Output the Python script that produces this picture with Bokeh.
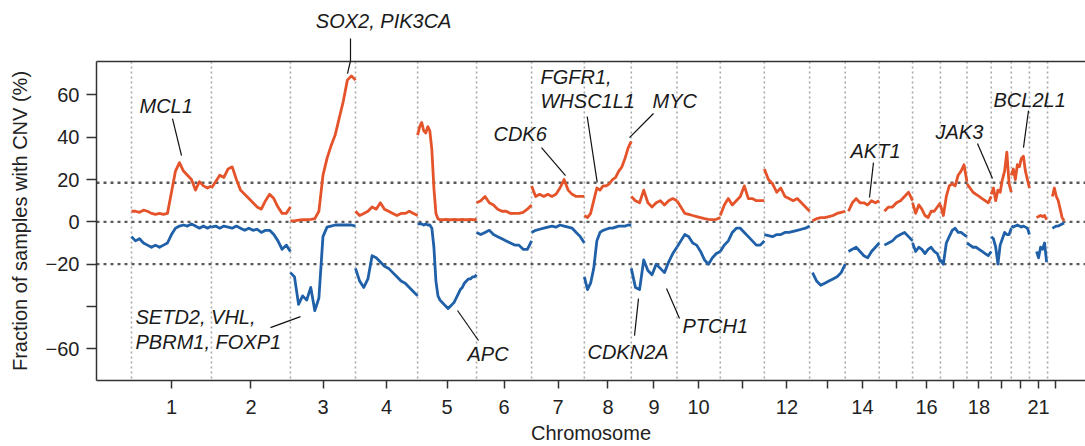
import numpy as np
from bokeh.plotting import figure
from bokeh.models import Span, Label, Arrow, FixedTicker, LinearAxis, Range1d
from bokeh.embed import file_html
from bokeh.resources import INLINE

# ---------------- data ----------------
CHROMS = [str(i) for i in range(1, 23)]
CHROM_LEN = [247, 244, 201, 192, 182, 170, 163, 145, 141, 134, 136,
             140, 110, 105, 103, 86, 82, 75, 62, 56, 56, 51]          # Mb
DATA_START = [0] * 12 + [9, 10, 16] + [0] * 5 + [22, 15]           # Mb trimmed (p-arm)
DATA_END_TRIM = [0] * 20 + [3, 0]
SHOWN_LABELS = ["1", "2", "3", "4", "5", "6", "7", "8", "9", "10",
                "12", "14", "16", "18", "21"]

GAIN = [
    [5, 5, 4.5, 5.5, 5, 4, 3.5, 4, 3.5, 4, 14, 24, 28, 24, 22, 20, 15, 19, 17, 16, 17],
    [16, 19, 22, 21, 25, 26, 20, 15, 13, 11, 9, 7, 6, 10, 13, 11, 7, 4, 4, 7],
    [0.5, 0.5, 0.8, 1, 1, 1.2, 1.5, 5, 22, 30, 36, 41, 49, 57, 67, 69, 67],
    [5, 3, 4, 5, 7, 6, 9, 6, 5, 4, 3, 4, 4, 5, 4, 3],
    [41, 45, 47, 43, 42, 45, 43, 34, 16, 4, 1.5, 1, 1, 1, 1.2, 1, 1, 1, 1.2, 1,
     1, 1, 1.2, 1, 1, 1, 1.2, 1, 1, 1.5],
    [9, 10, 12, 9, 8, 6, 5, 5, 4, 4, 4, 4.5, 6, 8],
    [17, 12, 13, 12, 13, 12, 13, 16, 20, 15, 13, 12, 12, 12],
    [3, 2, 4, 10, 16, 15, 17, 17, 18, 20, 21, 24, 26, 30, 35, 38],
    [12, 10, 9, 15, 9, 7, 9, 10, 8, 10, 11, 10],
    [10, 7, 4, 3.5, 3, 2.5, 2, 1.5, 1.2, 1, 1.2, 2],
    [3, 8, 11, 8, 10, 12, 17, 11, 11, 10, 10, 10],
    [25, 20, 18, 14, 16, 12, 11, 10, 11, 9, 7, 5],
    [0.5, 1.5, 2, 2, 2.5, 3, 4, 4.5, 5],
    [5, 9, 11, 9, 9, 8, 10, 9, 10],
    [5, 7, 7, 9, 10, 12, 14, 10],
    [9, 4, 8, 6, 3, 2, 5, 5, 7, 9],
    [8, 3, 12, 17, 18, 17, 22, 24, 27, 19],
    [18, 16, 14, 13, 12, 11, 10, 9, 12],
    [13, 16, 10, 15, 14, 20, 24, 33, 18, 14],
    [22, 25, 20, 27, 26, 30, 31, 24, 20, 16],
    [2, 2.5, 3, 2.5, 3, 1],
    [12, 16, 12, 10, 6, 2, 0.5],
]
LOSS = [
    [-7, -9, -8, -10, -11, -12, -11, -12, -11, -10, -6, -3, -2, -1.5, -2, -1, -2, -3, -2, -3, -2],
    [-2.5, -2, -3, -2, -2.5, -3, -2, -3, -4, -3, -4, -3.5, -5, -4, -4, -6, -9, -13, -11, -14],
    [-24, -26, -39, -35, -37, -31, -42, -36, -7, -2.5, -2, -1.5, -1.5, -1.5, -1.5, -1.5, -2],
    [-22, -28, -31, -27, -16, -17, -19, -21, -22, -24, -26, -28, -29, -31, -33, -35],
    [-1, -1, -1, -1.5, -1, -1.5, -1.5, -3, -12, -28, -35, -37, -38, -39, -40, -41,
     -40, -39, -38, -36, -34, -32, -31, -29, -28, -27, -27, -26, -26, -25],
    [-5, -6, -5, -4, -6, -7, -8, -9, -10, -11, -11, -13, -13, -9],
    [-5, -4, -3.5, -3, -2.5, -2, -2.5, -1.5, -2, -2.5, -3, -5, -7, -10],
    [-26, -32, -29, -22, -9, -5, -4, -3.5, -3, -3, -2.5, -2, -2, -2, -1.5, -1.5],
    [-22, -31, -32, -18, -23, -25, -20, -22, -24, -19, -15, -12],
    [-12, -9, -6, -7, -10, -11, -14, -18, -20, -17, -15, -14],
    [-14, -11, -9, -5, -3, -3, -5, -7, -9, -11, -11, -9],
    [-6, -6.5, -7, -6, -6, -5, -5, -4.5, -4, -3.5, -3, -2],
    [-24, -28, -30, -29, -28, -27, -26, -24, -20],
    [-14, -13, -12, -14, -16, -17, -14, -12, -10],
    [-11, -10, -9, -7, -6, -5, -7, -9],
    [-10, -14, -12, -13, -15, -13, -12, -14, -15, -19],
    [-18, -20, -10, -7, -4, -3, -5, -5, -6, -7],
    [-10, -11, -12, -12, -13, -14, -15, -16, -14],
    [-7, -8, -12, -20, -11, -8, -5, -6, -6, -3],
    [-2, -2.5, -2, -1.5, -2, -2.5, -2, -2.5, -3, -6],
    [-14, -17, -12, -13, -10, -19],
    [-3, -2.5, -2, -2, -1.5, -1, -0.5],
]

THRESHOLDS = [18.5, 0, -20]
Y_TICKS = [60, 40, 20, 0, -20, -40, -60]
Y_TICK_LABELS = ["60", "40", "20", "0", "\u221220", "", "\u221260"]

# gene annotations: (text lines, text x, text y (first line), line x0, y0, x1, y1)
GENES = [
    (["MCL1"], 24.7, 55.0, 126.7, 48.8, 154.5, 31.3),
    (["FGFR1,", "WHSC1L1"], 1263.5, 68.7, 1407.8, 49.8, 1438.7, 18.7),
    (["MYC"], 1609.5, 56.9, 1612.6, 51.2, 1538.5, 39.8),
    (["CDK6"], 1118.3, 41.3, 1266.6, 35.1, 1340.8, 21.9),
    (["AKT1"], 2221.2, 33.7, 2292.2, 28.0, 2279.9, 11.5),
    (["JAK3"], 2483.8, 42.6, 2613.5, 37.0, 2659.9, 20.5),
    (["BCL2L1"], 2663.0, 57.8, 2771.1, 52.6, 2755.6, 35.1),
    (["SETD2, VHL,", "PBRM1, FOXP1"], 12.4, -45.2, 429.4, -50.0, 522.1, -44.8),
    (["APC"], 1038.0, -62.3, 1072.0, -56.1, 1007.1, -41.9),
    (["CDKN2A"], 1408.7, -61.3, 1553.9, -53.8, 1566.3, -36.3),
    (["PTCH1"], 1702.2, -49.0, 1693.0, -45.7, 1652.8, -31.5),
]
# the chr3 peak label sits above the plot frame: (text, leader x at frame top, leader end x, y)
TOP_GENE = ("SOX2, PIK3CA", 676, 667.3, 70.1)

GAIN_COLOR = "#E5532A"
LOSS_COLOR = "#1F60A8"
FONT = "Liberation Sans"

# ---------------- derived positions ----------------
starts = np.concatenate([[0], np.cumsum(CHROM_LEN)[:-1]])
centers = [int(round(s + l / 2)) for s, l in zip(starts, CHROM_LEN)]

xs_gain, ys_gain, xs_loss, ys_loss = [], [], [], []
for i in range(len(CHROMS)):
    a = starts[i] + DATA_START[i]
    b = starts[i] + CHROM_LEN[i] - DATA_END_TRIM[i]
    xs_gain.append(list(np.linspace(a, b, len(GAIN[i])))); ys_gain.append(GAIN[i])
    xs_loss.append(list(np.linspace(a, b, len(LOSS[i])))); ys_loss.append(LOSS[i])

# ---------------- figure ----------------
p = figure(width=1085, height=446, output_backend="svg", toolbar_location=None,
           x_range=Range1d(-108.1, 2947.2), y_range=Range1d(-75.0, 75.8),
           min_border_left=96, min_border_right=0, min_border_top=61,
           min_border_bottom=66)
p.outline_line_color = None
p.background_fill_color = "white"
p.border_fill_color = "white"
p.xgrid.visible = False
p.ygrid.visible = False

# dotted guide lines
for s in starts:
    p.add_layout(Span(location=float(s), dimension="height", line_color="#a8a8a8",
                      line_width=1.6, line_dash="2 3", level="underlay"))
for t in THRESHOLDS:
    p.add_layout(Span(location=t, dimension="width", line_color="#5a5a5a",
                      line_width=2.4, line_dash="3 4", level="underlay"))

p.multi_line(xs_gain, ys_gain, line_color=GAIN_COLOR, line_width=2.8, line_join="round")
p.multi_line(xs_loss, ys_loss, line_color=LOSS_COLOR, line_width=2.8, line_join="round")

# axes styling
for ax in (p.xaxis[0], p.yaxis[0]):
    ax.axis_line_color = "#333333"
    ax.axis_line_width = 1.5
    ax.major_tick_line_color = "#333333"
    ax.major_tick_line_width = 1.5
    ax.minor_tick_line_color = None
    ax.major_tick_in = 0
    ax.major_label_text_font = FONT
    ax.major_label_text_font_size = "20px"
    ax.major_label_text_color = "#222222"
    ax.axis_label_text_font = FONT
    ax.axis_label_text_font_size = "20px"
    ax.axis_label_text_font_style = "normal"
    ax.axis_label_text_color = "#222222"

p.yaxis.ticker = FixedTicker(ticks=Y_TICKS)
p.yaxis.major_label_overrides = {t: l for t, l in zip(Y_TICKS, Y_TICK_LABELS)}
p.yaxis.major_tick_out = 10
p.yaxis.major_label_standoff = 7
p.yaxis.axis_label = "Fraction of samples with CNV (%)"
p.yaxis.axis_label_standoff = 12

p.xaxis.ticker = FixedTicker(ticks=centers)
p.xaxis.major_label_overrides = {c: (n if n in SHOWN_LABELS else "")
                                 for c, n in zip(centers, CHROMS)}
p.xaxis.major_tick_out = 8
p.xaxis.major_label_standoff = 11
p.xaxis.axis_label = "Chromosome"
p.xaxis.axis_label_standoff = 5

# top frame line; its single tick is the upper part of the chr3 leader line,
# and its tick label is the gene text (padded so it sits right of the leader)
top_text, top_x = TOP_GENE[0], TOP_GENE[1]
top = LinearAxis(ticker=FixedTicker(ticks=[top_x]), axis_line_color="#333333",
                 axis_line_width=1.5, major_tick_line_color="#111111",
                 major_tick_line_width=1.2, major_tick_in=0, major_tick_out=23,
                 minor_tick_line_color=None,
                 major_label_overrides={top_x: "\u00a0" * 12 + top_text},
                 major_label_text_font=FONT, major_label_text_font_size="20px",
                 major_label_text_font_style="italic",
                 major_label_text_color="#1a1a1a", major_label_standoff=7)
p.add_layout(top, "above")
p.add_layout(Arrow(x_start=float(top_x), y_start=75.8, x_end=TOP_GENE[2],
                   y_end=TOP_GENE[3], end=None, line_color="#111111", line_width=1.2))

# annotations
for lines, tx, ty, x0, y0, x1, y1 in GENES:
    for k, line in enumerate(lines):
        p.add_layout(Label(x=tx, y=ty - k * 11.8, text=line, text_font=FONT,
                           text_font_size="20px", text_font_style="italic",
                           text_color="#1a1a1a", text_baseline="middle",
                           text_align="left"))
    p.add_layout(Arrow(x_start=x0, y_start=y0, x_end=x1, y_end=y1, end=None,
                       line_color="#111111", line_width=1.2))

open("out.html", "w").write(file_html(p, INLINE))
